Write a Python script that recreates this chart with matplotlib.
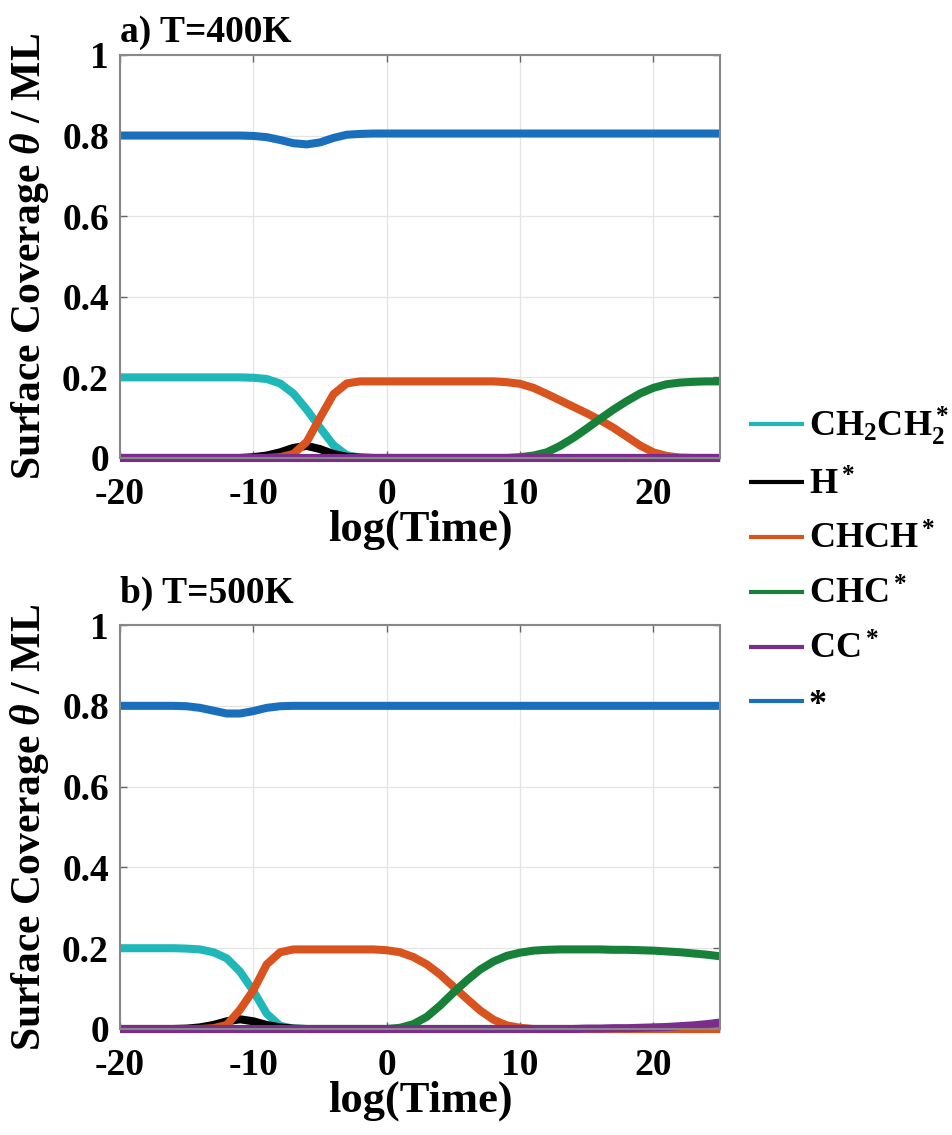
import numpy as np
import matplotlib
matplotlib.use("Agg")
import matplotlib.pyplot as plt

plt.rcParams["font.family"] = ["Liberation Serif", "DejaVu Serif"]
plt.rcParams["font.weight"] = "bold"
plt.rcParams["axes.unicode_minus"] = False
plt.rcParams["mathtext.fontset"] = "custom"
plt.rcParams["mathtext.rm"] = "Liberation Serif:bold"
plt.rcParams["mathtext.it"] = "Liberation Serif:italic:bold"
plt.rcParams["mathtext.bf"] = "Liberation Serif:bold"

# log(Time) sample positions, -20 ... 25
log_t = np.arange(-20, 26)

# --- a) T=400K ---
ch2ch2_a = [0.2] * 10 + [0.199, 0.196, 0.185, 0.16, 0.12, 0.075, 0.032, 0.007, 0.001] + [0.0] * 27
h_a = [0.0] * 10 + [0.002, 0.006, 0.014, 0.025, 0.03, 0.022, 0.01, 0.003, 0.001] + [0.0] * 27
chch_a = ([0.0] * 12 + [0.002, 0.01, 0.04, 0.1, 0.158, 0.185, 0.19] + [0.19] * 10
          + [0.188, 0.184, 0.174, 0.159, 0.143, 0.127, 0.111, 0.094, 0.075, 0.053,
             0.031, 0.014, 0.005, 0.001] + [0.0] * 3)
chc_a = [0.0] * 30 + [0.002, 0.006, 0.014, 0.03, 0.05, 0.073, 0.097, 0.12, 0.141,
                      0.16, 0.174, 0.183, 0.187, 0.189, 0.19, 0.19]
cc_a = [0.0] * 46
free_a = [0.8] * 10 + [0.799, 0.796, 0.789, 0.781, 0.778, 0.783, 0.794, 0.802, 0.804] + [0.805] * 27

# --- b) T=500K ---
ch2ch2_b = [0.2] * 5 + [0.199, 0.197, 0.19, 0.175, 0.142, 0.094, 0.038, 0.008, 0.001] + [0.0] * 32
h_b = [0.0] * 5 + [0.001, 0.004, 0.01, 0.019, 0.024, 0.019, 0.01, 0.004, 0.001] + [0.0] * 32
chch_b = ([0.0] * 7 + [0.002, 0.01, 0.048, 0.096, 0.16, 0.19, 0.197] + [0.197] * 6
          + [0.195, 0.19, 0.178, 0.16, 0.135, 0.105, 0.075, 0.046, 0.023, 0.009, 0.003]
          + [0.0] * 15)
chc_b = [0.0] * 21 + [0.003, 0.012, 0.03, 0.058, 0.09, 0.12, 0.147, 0.167, 0.181, 0.189,
                      0.194, 0.196, 0.197, 0.197, 0.197, 0.197, 0.196, 0.196, 0.195,
                      0.194, 0.192, 0.19, 0.187, 0.184, 0.18]
cc_b = [0.0] * 35 + [0.001, 0.001, 0.002, 0.002, 0.003, 0.004, 0.005, 0.007, 0.009, 0.012, 0.016]
free_b = [0.8] * 5 + [0.799, 0.795, 0.788, 0.781, 0.781, 0.787, 0.795, 0.799] + [0.8] * 33

species = [r"CH$_2$CH$_2^*$", r"H$^*$", r"CHCH$^*$", r"CHC$^*$", r"CC$^*$", "*"]
colors = ["#1fb7b7", "#000000", "#d9531e", "#17813a", "#7b2d8c", "#1a6fbd"]
titles = ["a) T=400K", "b) T=500K"]
title_y = [1.032, 1.054]
panels = [
    [ch2ch2_a, h_a, chch_a, chc_a, cc_a, free_a],
    [ch2ch2_b, h_b, chch_b, chc_b, cc_b, free_b],
]

fig = plt.figure(figsize=(9.52, 11.35), dpi=100)
ax_a = fig.add_axes([0.1261, 0.5965, 0.6303, 0.3551])
ax_b = fig.add_axes([0.1261, 0.0934, 0.6303, 0.3559])

for ax, series, title, ty in zip([ax_a, ax_b], panels, titles, title_y):
    for ys, c, lab in zip(series, colors, species):
        ax.plot(log_t, ys, color=c, lw=5.8, label=lab, clip_on=False,
                solid_capstyle="butt", solid_joinstyle="round")
    ax.set_xlim(-20, 25)
    ax.set_ylim(0, 1)
    ax.set_xticks([-20, -10, 0, 10, 20])
    ax.set_yticks([0, 0.2, 0.4, 0.6, 0.8, 1])
    ax.set_yticklabels(["0", "0.2", "0.4", "0.6", "0.8", "1"])
    ax.grid(True, color="#e4e4e4", lw=0.9)
    ax.set_axisbelow(True)
    ax.tick_params(direction="in", top=True, right=True, length=5, width=1,
                   color="#666666", labelsize=27)
    ax.tick_params(axis="x", pad=14)
    ax.tick_params(axis="y", pad=8)
    for s in ax.spines.values():
        s.set_color("#888888")
        s.set_linewidth(1.5)
    ax.set_xlabel("log(Time)", fontsize=32, fontweight="bold")
    ax.xaxis.set_label_coords(0.5, -0.127)
    ax.set_ylabel(r"Surface Coverage $\theta$ / ML", fontsize=30, fontweight="bold")
    ax.yaxis.set_label_coords(-0.115, 0.5)
    ax.text(0.0, ty, title, transform=ax.transAxes, ha="left", va="baseline",
            fontsize=27, fontweight="bold")

handles, labels = ax_a.get_legend_handles_labels()
leg = fig.legend(handles, labels, loc="upper left", bbox_to_anchor=(0.772, 0.656),
                 frameon=False, fontsize=26, handlelength=1.5, handletextpad=0.15,
                 labelspacing=0.6, borderaxespad=0)
for line in leg.get_lines():
    line.set_linewidth(3)

fig.savefig("out.png", dpi=100)
